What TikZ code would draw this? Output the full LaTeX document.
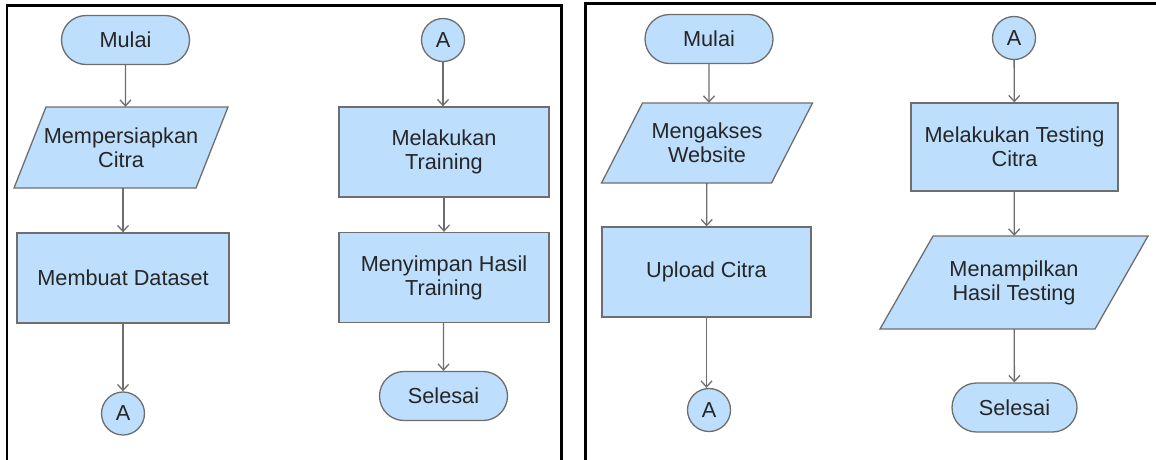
\documentclass[tikz,border=0pt]{standalone}
\usepackage{fontspec}
\setmainfont{Liberation Sans}
\usetikzlibrary{arrows.meta}
\definecolor{boxfill}{HTML}{BDDFFD}
\definecolor{boxline}{HTML}{6E6E6E}
\definecolor{txt}{HTML}{262626}
\tikzset{
  base/.style={draw=boxline, fill=boxfill, line width=1.3pt, text=txt, align=center,
    font=\fontsize{21.7}{24}\selectfont, inner sep=0pt},
  procbox/.style={base, rectangle, minimum width=#1, minimum height=90pt},
  termbox/.style={base, rounded rectangle, minimum width=128pt, minimum height=49pt},
  conbox/.style={base, circle, minimum size=43pt},
  iotext/.style={draw=none, fill=none, text=txt, align=center,
    font=\fontsize{21.7}{24}\selectfont, inner sep=0pt},
  iobox/.style={draw=boxline, fill=boxfill, line width=1.3pt},
  flow/.style={draw=boxline, line width=1.3pt, -{Straight Barb[length=6pt,width=11pt]}},
  frame/.style={draw=black, line width=2.6pt}
}
\usetikzlibrary{shapes.misc}
\begin{document}
\begin{tikzpicture}[x=1pt,y=-1pt]
\useasboundingbox (0,0) rectangle (1156,459);
% frames
\draw[frame] (7,460) -- (7,5.5) -- (561.5,5.5) -- (561.5,460);
\draw[frame] (585.7,460) -- (585.7,3.7) -- (1157,3.7);

% ---------- left panel, column 1
\node[termbox] (m1) at (125.5,40) {Mulai};
\path[iobox] (46,107) -- (228,107) -- (196,188) -- (14,188) -- cycle;
\node[iotext, minimum width=182pt, minimum height=81pt] (p1) at (121,147.5) {Mempersiapkan\\Citra};
\node[procbox=212pt] (d1) at (123,278) {Membuat Dataset};
\node[conbox] (a1) at (123,413.5) {A};
\draw[flow] (m1) -- (p1.north -| m1);
\draw[flow] (p1.south -| d1) -- (d1);
\draw[flow] (d1) -- (a1);

% ---------- left panel, column 2
\node[conbox] (a2) at (443,40) {A};
\node[procbox=210pt] (t1) at (444,152) {Melakukan\\Training};
\node[procbox=210pt] (s1) at (444,277.5) {Menyimpan Hasil\\Training};
\node[termbox] (e1) at (443.5,396) {Selesai};
\draw[flow] (a2) -- (t1.north -| a2);
\draw[flow] (t1) -- (s1);
\draw[flow] (s1.south -| e1) -- (e1);

% ---------- right panel, column 1
\node[termbox] (m2) at (709,39) {Mulai};
\path[iobox] (642.5,103) -- (812.5,103) -- (771.5,183) -- (601.5,183) -- cycle;
\node[iotext, minimum width=170pt, minimum height=80pt] (p2) at (707,143) {Mengakses\\Website};
\node[procbox=209pt] (u1) at (706.5,272) {Upload Citra};
\node[conbox] (a3) at (709,410) {A};
\draw[flow] (m2) -- (p2.north -| m2);
\draw[flow] (p2) -- (u1);
\draw[flow] (u1) -- (a3.north -| u1);

% ---------- right panel, column 2
\node[conbox] (a4) at (1014,38) {A};
\node[procbox=207pt, minimum height=88pt] (t2) at (1014.5,147) {Melakukan Testing\\Citra};
\path[iobox] (933,236) -- (1148,236) -- (1095,329) -- (880,329) -- cycle;
\node[iotext, minimum width=215pt, minimum height=93pt] (p3) at (1014,282.5) {Menampilkan\\Hasil Testing};
\node[termbox, minimum width=125pt] (e2) at (1014.5,407.5) {Selesai};
\draw[flow] (a4) -- (t2);
\draw[flow] (t2) -- (p3);
\draw[flow] (p3) -- (e2);
\end{tikzpicture}
\end{document}
